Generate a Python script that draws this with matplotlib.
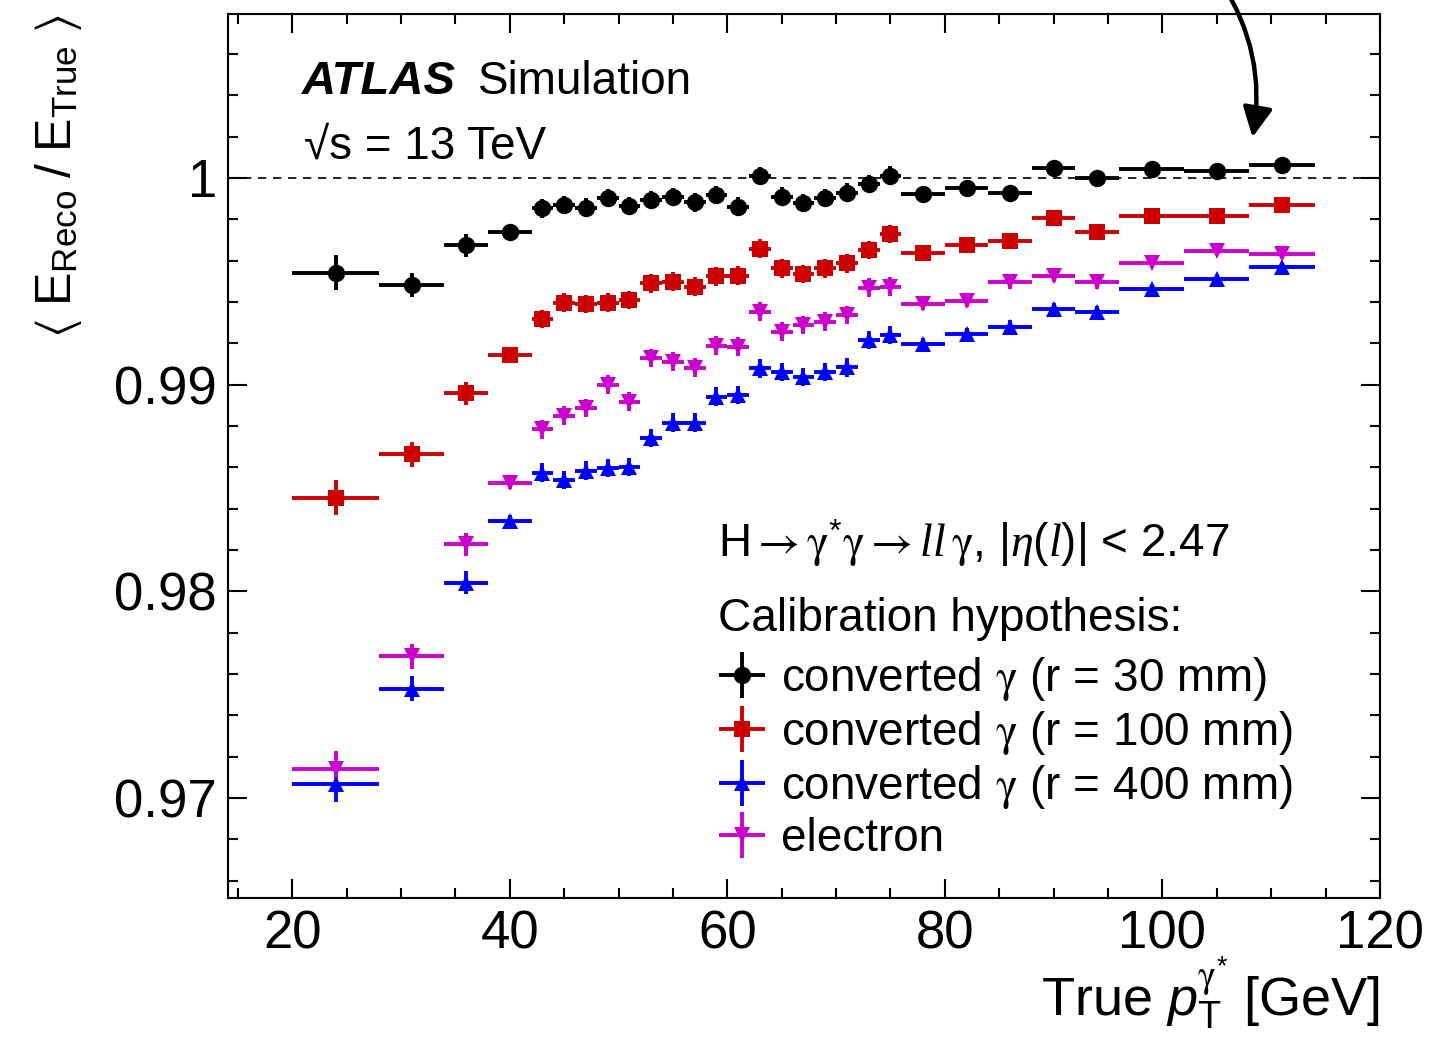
import numpy as np
import matplotlib
matplotlib.use("Agg")
import matplotlib.pyplot as plt
from matplotlib.ticker import MultipleLocator

plt.rcParams['font.family'] = ['Liberation Sans', 'DejaVu Sans']
plt.rcParams['mathtext.fontset'] = 'custom'
plt.rcParams['mathtext.rm'] = 'Liberation Sans'
plt.rcParams['mathtext.it'] = 'Liberation Serif:italic'
plt.rcParams['mathtext.sf'] = 'Liberation Sans:italic'
plt.rcParams['mathtext.bf'] = 'Liberation Sans:bold'
plt.rcParams['mathtext.cal'] = 'STIXGeneral'   # used for the symbol-font gamma and arrows
plt.rcParams['mathtext.fallback'] = 'stix'

# === data ===
pt_center = [24, 31, 36, 40, 43, 45, 47, 49, 51, 53, 55, 57, 59, 61, 63, 65, 67,
             69, 71, 73, 75, 78, 82, 86, 90, 94, 99, 105, 111]
pt_halfwidth = [4, 3, 2, 2] + [1] * 17 + [2] * 5 + [3] * 3

conv30 = [0.99542, 0.99482, 0.99674, 0.99740, 0.99853, 0.99869, 0.99856, 0.99902,
          0.99865, 0.99894, 0.99907, 0.99882, 0.99918, 0.99861, 1.00010, 0.99910,
          0.99878, 0.99902, 0.99929, 0.99971, 1.00011, 0.99921, 0.99950, 0.99926,
          1.00047, 0.99998, 1.00042, 1.00035, 1.00063]
conv100 = [0.98453, 0.98663, 0.98958, 0.99144, 0.99318, 0.99397, 0.99389, 0.99397,
           0.99410, 0.99490, 0.99498, 0.99474, 0.99523, 0.99527, 0.99657, 0.99563,
           0.99536, 0.99563, 0.99587, 0.99652, 0.99729, 0.99636, 0.99674, 0.99695,
           0.99808, 0.99737, 0.99818, 0.99818, 0.99869]
conv400 = [0.97067, 0.97529, 0.98041, 0.98341, 0.98574, 0.98539, 0.98584, 0.98596,
           0.98602, 0.98741, 0.98816, 0.98816, 0.98942, 0.98950, 0.99079, 0.99060,
           0.99036, 0.99060, 0.99084, 0.99216, 0.99240, 0.99197, 0.99245, 0.99281,
           0.99365, 0.99350, 0.99462, 0.99511, 0.99568]
electron = [0.97141, 0.97686, 0.98228, 0.98526, 0.98784, 0.98849, 0.98886, 0.98999,
            0.98918, 0.99128, 0.99111, 0.99082, 0.99189, 0.99184, 0.99353, 0.99256,
            0.99289, 0.99305, 0.99337, 0.99469, 0.99474, 0.99389, 0.99405, 0.99494,
            0.99527, 0.99494, 0.99590, 0.99647, 0.99632]
stat_err = [0.00085, 0.0006, 0.00055, 0.0003] + [0.00045] * 17 + [0.0003] * 5 + [0.0002] * 3

series_labels = [r'converted $\mathcal{\gamma}$ (r = 30 mm)',
                 r'converted $\mathcal{\gamma}$ (r = 100 mm)',
                 r'converted $\mathcal{\gamma}$ (r = 400 mm)',
                 'electron']
xtick_vals = [20, 40, 60, 80, 100, 120]
ytick_vals = [0.97, 0.98, 0.99, 1.0]
ytick_labels = ['0.97', '0.98', '0.99', '1']

# === figure ===
fig = plt.figure(figsize=(14.44, 10.37), dpi=100)
ax = fig.add_axes([228 / 1444, 1 - 898 / 1037, 1152 / 1444, 884 / 1037])

ax.axhline(1.0, color='black', lw=1.2, ls=(0, (5, 4)), zorder=1)

styles = [('black', 'o', 12.5), ('#cc0000', 's', 11.5), ('#0000ff', '^', 12), ('#cc00cc', 'v', 12)]
handles = []
for vals, (col, mk, ms), lab in zip([conv30, conv100, conv400, electron], styles, series_labels):
    h = ax.errorbar(pt_center, vals, xerr=pt_halfwidth, yerr=stat_err, fmt=mk, color=col,
                    ms=ms, mew=0, elinewidth=2.8, capsize=0, label=lab, zorder=3)
    handles.append(h)

ax.set_xlim(14.1, 120)
ax.set_ylim(0.96516, 1.00793)
ax.set_xticks(xtick_vals)
ax.set_yticks(ytick_vals, ytick_labels)
ax.xaxis.set_minor_locator(MultipleLocator(5))
ax.yaxis.set_minor_locator(MultipleLocator(0.002))
ax.tick_params(which='both', direction='in', top=True, right=True, width=1.5,
               labelsize=38)
ax.tick_params(which='major', length=14, pad=8)
ax.tick_params(which='minor', length=7)
for s in ax.spines.values():
    s.set_linewidth(1.5)

ax.set_xlabel(r'True $\mathsf{p}_{\mathrm{T}}^{\mathcal{\gamma}^{*}}$ [GeV]', fontsize=39, loc='right')
ax.xaxis.set_label_coords(1.0, -0.064)
ax.set_ylabel(r'$\langle\ \mathrm{E}_{\mathrm{Reco}}\ \mathrm{/}\ \mathrm{E}_{\mathrm{True}}\ \rangle$',
              fontsize=36, loc='top')
ax.yaxis.set_label_coords(-0.125, 1.0)

# labels
ax.text(0.0642, 0.9095, 'ATLAS', fontsize=34, fontweight='bold', style='italic',
        transform=ax.transAxes, va='baseline')
ax.text(0.217, 0.9095, 'Simulation', fontsize=33, transform=ax.transAxes, va='baseline')
ax.text(0.066, 0.837, '√s = 13 TeV', fontsize=33, transform=ax.transAxes, va='baseline')
ax.text(0.4253, 0.3857,
        r'H$\mathcal{\rightarrow\gamma}^{*}\mathcal{\gamma\rightarrow}ll\,\mathcal{\gamma}$, |$\eta(l)$| < 2.47',
        fontsize=33, transform=ax.transAxes, va='baseline')
ax.text(0.4253, 0.302, 'Calibration hypothesis:', fontsize=33,
        transform=ax.transAxes, va='baseline')

leg = ax.legend(handles=handles, loc='upper left', bbox_to_anchor=(0.4306, 0.2752),
                frameon=False, fontsize=33, handlelength=0.8, handletextpad=0.45,
                labelspacing=0.135, borderpad=0, borderaxespad=0)

# arrow coming in from above
ax.annotate('', xy=(1252, 1037 - 140), xycoords='figure pixels',
            xytext=(1220, 1037 + 20), textcoords='figure pixels',
            arrowprops=dict(arrowstyle='-|>,head_length=1.8,head_width=0.9',
                            connectionstyle='arc3,rad=-0.2', lw=3.2, color='black'),
            annotation_clip=False)

fig.savefig('out.png', dpi=100)
